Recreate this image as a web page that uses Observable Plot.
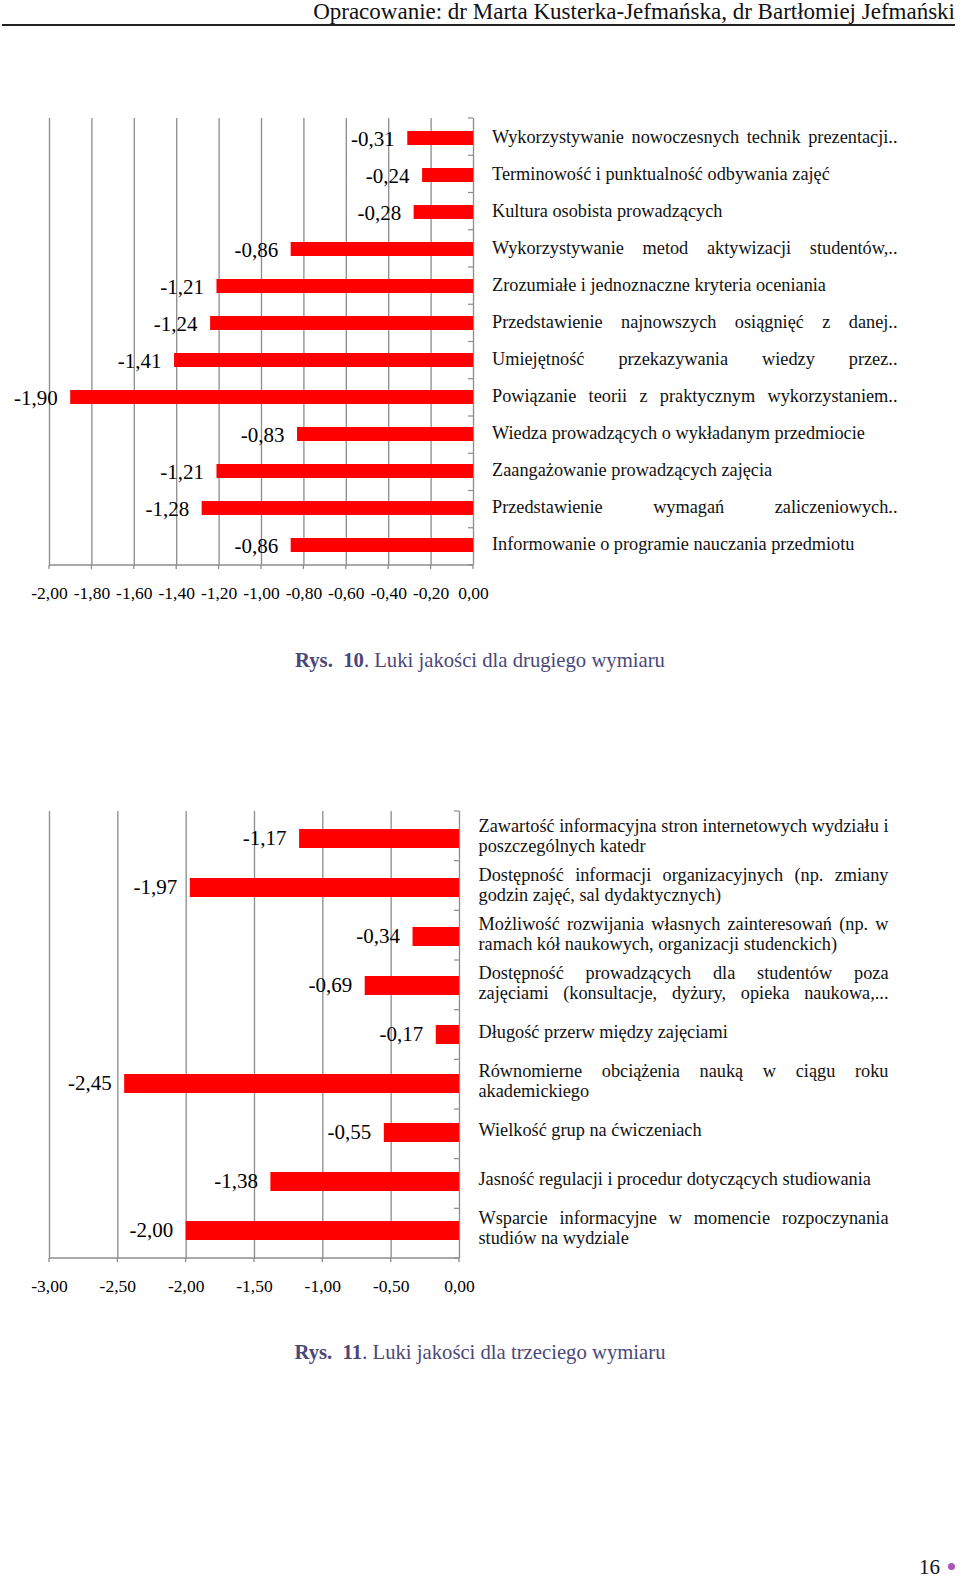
<!DOCTYPE html>
<html>
<head>
<meta charset="utf-8">
<script src="https://cdn.jsdelivr.net/npm/d3@7"></script>
<script src="https://cdn.jsdelivr.net/npm/@observablehq/plot@0.6"></script>
<style>
  body { margin: 0; background: #fff; }
  #page { position: relative; width: 960px; height: 1578px; overflow: hidden; background: #fff; font-family: 'Liberation Serif', serif; }
  #header { position: absolute; right: 5px; top: 1px; font-size: 23px; line-height: 22px; color: #111; white-space: nowrap; }
  #rule { position: absolute; left: 2px; top: 24px; width: 953px; height: 2px; background: #222; }
  .chart { position: absolute; left: 0; }
  .caption { position: absolute; left: 0; width: 960px; text-align: center; font-size: 20.7px; line-height: 24px; color: #4a4878; white-space: nowrap; }
  .caption b { font-weight: bold; }
  #pnum { position: absolute; left: 919px; top: 1555px; font-size: 21px; line-height: 24px; color: #111; }
  #dot { position: absolute; left: 948px; top: 1563px; width: 7px; height: 7px; border-radius: 50%; background: #a855b8; }
</style>
</head>
<body>
<div id="page">
  <div id="header">Opracowanie: dr Marta Kusterka-Jefmańska, dr Bartłomiej Jefmański</div>
  <div id="rule"></div>
  <div id="chart1" class="chart" style="top:100px"></div>
  <div class="caption" style="top:648px"><b>Rys.&nbsp; 10</b>. Luki jakości dla drugiego wymiaru</div>
  <div id="chart2" class="chart" style="top:790px"></div>
  <div class="caption" style="top:1340px"><b>Rys.&nbsp; 11</b>. Luki jakości dla trzeciego wymiaru</div>
  <div id="pnum">16</div>
  <div id="dot"></div>
</div>
<script>
// ---- Data: Rys. 10 (second dimension) ----
const dim2Labels = [
  "Wykorzystywanie nowoczesnych technik prezentacji..",
  "Terminowość i punktualność odbywania zajęć",
  "Kultura osobista prowadzących",
  "Wykorzystywanie metod aktywizacji studentów,..",
  "Zrozumiałe i jednoznaczne kryteria oceniania",
  "Przedstawienie najnowszych osiągnięć z danej..",
  "Umiejętność przekazywania wiedzy przez..",
  "Powiązanie teorii z praktycznym wykorzystaniem..",
  "Wiedza prowadzących o wykładanym przedmiocie",
  "Zaangażowanie prowadzących zajęcia",
  "Przedstawienie wymagań zaliczeniowych..",
  "Informowanie o programie nauczania przedmiotu"
];
const dim2Values = [-0.31, -0.24, -0.28, -0.86, -1.21, -1.24, -1.41, -1.90, -0.83, -1.21, -1.28, -0.86];
const dim2Ticks = [-2.0, -1.8, -1.6, -1.4, -1.2, -1.0, -0.8, -0.6, -0.4, -0.2, 0.0];

// ---- Data: Rys. 11 (third dimension) ----
const dim3Labels = [
  "Zawartość informacyjna stron internetowych wydziału i\nposzczególnych katedr",
  "Dostępność informacji organizacyjnych (np. zmiany\ngodzin zajęć, sal dydaktycznych)",
  "Możliwość rozwijania własnych zainteresowań (np. w\nramach kół naukowych, organizacji studenckich)",
  "Dostępność prowadzących dla studentów poza\nzajęciami (konsultacje, dyżury, opieka naukowa,...",
  "Długość przerw między zajęciami",
  "Równomierne obciążenia nauką w ciągu roku\nakademickiego",
  "Wielkość grup na ćwiczeniach",
  "Jasność regulacji i procedur dotyczących studiowania",
  "Wsparcie informacyjne w momencie rozpoczynania\nstudiów na wydziale"
];
const dim3Values = [-1.17, -1.97, -0.34, -0.69, -0.17, -2.45, -0.55, -1.38, -2.00];
const dim3Ticks = [-3.0, -2.5, -2.0, -1.5, -1.0, -0.5, 0.0];

const fmtNum = v => d3.format(".2f")(v).replace("\u2212", "-").replace(".", ",");
const GRID = "#8c8c8c";

function gapChart(cfg) {
  const {labels, values, ticks, marginTop, plotH, marginRight, barPad, labelPad, valueDy, labelDy} = cfg;
  const rows = labels.map((label, i) => ({label, value: values[i]}));
  const marginBottom = 40;
  const n = labels.length;
  const frame = (index, scales, vals, dims) => {
    const g = d3.create("svg:g");
    const top = dims.marginTop, bot = dims.height - dims.marginBottom;
    const left = dims.marginLeft, right = dims.width - dims.marginRight;
    const step = (bot - top) / n;
    const xs = scales && scales.x ? scales.x : null;
    g.append("line").attr("x1", left).attr("x2", right).attr("y1", bot).attr("y2", bot)
      .attr("stroke", GRID).attr("stroke-width", 1.4);
    for (let i = 0; i <= n; i++) {
      g.append("line").attr("x1", right - 5).attr("x2", right)
        .attr("y1", top + i * step).attr("y2", top + i * step)
        .attr("stroke", GRID).attr("stroke-width", 1.2);
    }
    ticks.forEach(t => {
      const px = xs ? xs(t) : left + (right - left) * (t - ticks[0]) / (0 - ticks[0]);
      g.append("line").attr("x1", px).attr("x2", px).attr("y1", bot).attr("y2", bot + 4)
        .attr("stroke", GRID).attr("stroke-width", 1.3);
    });
    return g.node();
  };
  return Plot.plot({
    width: 960,
    height: marginTop + plotH + marginBottom,
    marginLeft: 49,
    marginRight,
    marginTop,
    marginBottom,
    style: {fontFamily: "'Liberation Serif', serif", color: "#000", background: "transparent", overflow: "visible"},
    x: {domain: [ticks[0], 0], label: null},
    y: {domain: labels, paddingInner: barPad, paddingOuter: barPad / 2, label: null},
    marks: [
      Plot.gridX(ticks, {stroke: GRID, strokeOpacity: 1, strokeWidth: 1.3}),
      Plot.barX(rows, {x: "value", y: "label", fill: "#ff0000"}),
      frame,
      Plot.axisX(ticks, {tickFormat: fmtNum, tickSize: 0, tickPadding: 21, fontSize: 17.5, label: null, fill: "#000"}),
      Plot.axisY({anchor: "right", tickSize: 0, tickPadding: labelPad, fontSize: 18.3, lineHeight: 1.07, dy: labelDy, label: null, fill: "#111"}),
      Plot.text(rows, {x: "value", y: "label", text: d => fmtNum(d.value), textAnchor: "end", dx: -13, dy: valueDy, fontSize: 21, fill: "#000"})
    ]
  });
}

function justify(svg, width) {
  let texts = svg.querySelectorAll('[aria-label="y-axis tick label"] text');
  if (!texts.length) texts = svg.querySelectorAll('[aria-label^="y-axis"] text');
  texts.forEach(t => {
    const spans = t.querySelectorAll("tspan");
    const lines = spans.length ? Array.from(spans) : [t];
    lines.forEach((el, i) => {
      const s = el.textContent.trim();
      const doIt = (lines.length > 1 && i < lines.length - 1) || /\.\.+$/.test(s);
      if (!doIt) return;
      const gaps = (s.match(/ /g) || []).length;
      if (!gaps) return;
      const w = el.getComputedTextLength();
      el.style.wordSpacing = ((width - w) / gaps) + "px";
    });
  });
}

const c1 = gapChart({labels: dim2Labels, values: dim2Values, ticks: dim2Ticks,
  marginTop: 18, plotH: 447, marginRight: 487, barPad: 0.614, labelPad: 18.5, valueDy: 0.5, labelDy: -1.5});
document.getElementById("chart1").appendChild(c1);
justify(c1, 897 - 491.5);

const c2 = gapChart({labels: dim3Labels, values: dim3Values, ticks: dim3Ticks,
  marginTop: 21, plotH: 447, marginRight: 501, barPad: 0.62, labelPad: 19, valueDy: -0.5, labelDy: -3.5});
document.getElementById("chart2").appendChild(c2);
justify(c2, 888 - 478);
</script>
</body>
</html>
